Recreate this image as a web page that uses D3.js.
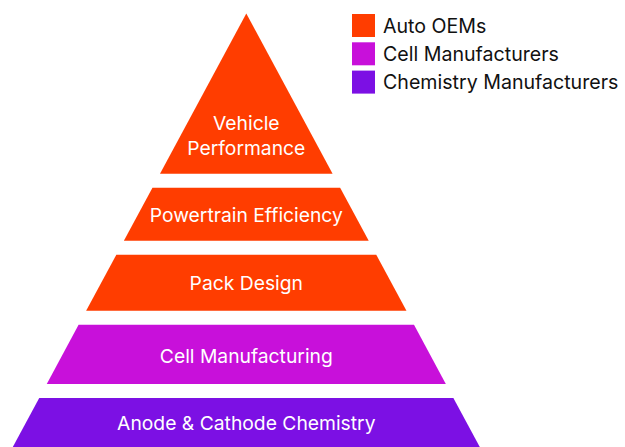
<!DOCTYPE html>
<html>
<head>
<meta charset="utf-8">
<script src="https://cdn.jsdelivr.net/npm/d3@7/dist/d3.min.js"></script>
<style>
  html, body { margin: 0; padding: 0; background: #ffffff; }
  svg { display: block; }
  text { font-family: Inter, "Noto Sans", sans-serif; }
</style>
</head>
<body>
<svg id="chart" width="625" height="447"></svg>
<script>
// ---- data ----
const layers = ["Vehicle Performance", "Powertrain Efficiency", "Pack Design", "Cell Manufacturing", "Anode & Cathode Chemistry"];
const layerLines = [["Vehicle", "Performance"], ["Powertrain Efficiency"], ["Pack Design"], ["Cell Manufacturing"], ["Anode & Cathode Chemistry"]];
const layerValues = [160, 53, 56, 59, 49];
const layerGroup = ["Auto OEMs", "Auto OEMs", "Auto OEMs", "Cell Manufacturers", "Chemistry Manufacturers"];
const groups = ["Auto OEMs", "Cell Manufacturers", "Chemistry Manufacturers"];
const groupColors = ["#ff3d00", "#c810da", "#7c10e4"];

// ---- layout ----
const W = 625, H = 447;
const cx = 246.3, apexY = 13.5, baseY = 447, baseHalf = 233.5;
const gap = 14;

const svg = d3.select("#chart");
const color = d3.scaleOrdinal().domain(groups).range(groupColors);

const total = d3.sum(layerValues);
const y = d3.scaleLinear().domain([0, total]).range([apexY, baseY - gap * (layers.length - 1)]);
const half = d3.scaleLinear().domain([apexY, baseY]).range([0, baseHalf]);

let cum = 0;
const segs = layers.map((name, i) => {
  const y0 = y(cum) + i * gap;
  cum += layerValues[i];
  const y1 = y(cum) + i * gap;
  return { name, i, y0, y1, group: layerGroup[i], lines: layerLines[i] };
});

const g = svg.append("g");
g.selectAll("path.seg").data(segs).join("path")
  .attr("class", "seg")
  .attr("fill", d => color(d.group))
  .attr("d", d => {
    const h0 = half(d.y0), h1 = half(d.y1);
    return d3.line()([[cx - h0, d.y0], [cx + h0, d.y0], [cx + h1, d.y1], [cx - h1, d.y1]]) + "Z";
  });

// labels
const labelFrac = [0.76, 0.52, 0.5, 0.52, 0.5];
const lineH = 25;
g.selectAll("text.lbl").data(segs).join("text")
  .attr("class", "lbl")
  .attr("fill", "#ffffff")
  .attr("font-size", 19.3)
  .attr("text-anchor", "middle")
  .each(function(d) {
    const yc = d.y0 + (d.y1 - d.y0) * labelFrac[d.i];
    const n = d.lines.length;
    d3.select(this).selectAll("tspan").data(d.lines).join("tspan")
      .attr("x", cx)
      .attr("y", (t, k) => yc + (k - (n - 1) / 2) * lineH)
      .attr("dy", "0.37em")
      .text(t => t);
  });

// legend
const legend = svg.append("g").attr("transform", "translate(352,14)");
const items = legend.selectAll("g").data(groups).join("g")
  .attr("transform", (d, i) => `translate(0,${i * 28.3})`);
items.append("rect")
  .attr("width", 23).attr("height", 23)
  .attr("fill", d => color(d));
items.append("text")
  .attr("x", 31).attr("y", 11.8).attr("dy", "0.36em")
  .attr("font-size", 19.6).attr("fill", "#111111")
  .text(d => d);
</script>
</body>
</html>
